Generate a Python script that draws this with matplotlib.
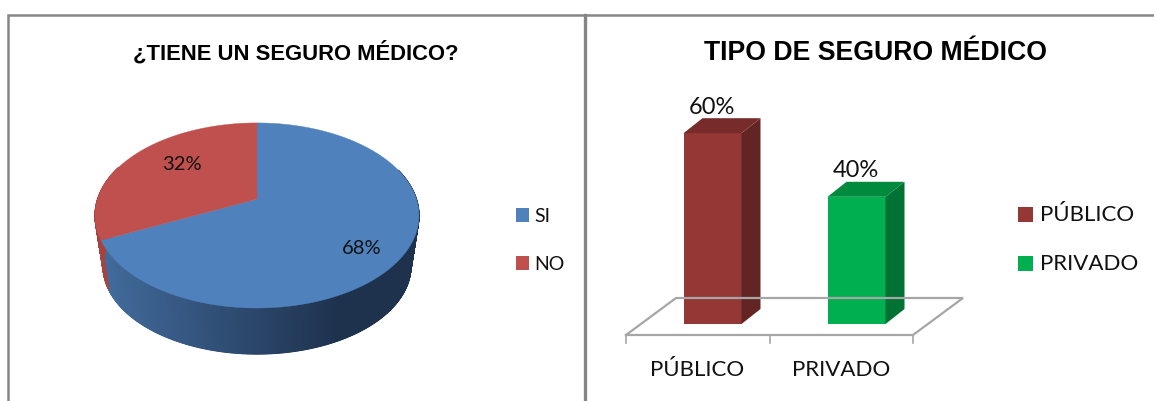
import numpy as np
import matplotlib
matplotlib.use("Agg")
import matplotlib.pyplot as plt

pie_title = "¿TIENE UN SEGURO MÉDICO?"
pie_labels = ["SI", "NO"]
pie_values = [68, 32]
pie_colors = ["#4F81BD", "#C0504D"]

bar_title = "TIPO DE SEGURO MÉDICO"
bar_labels = ["PÚBLICO", "PRIVADO"]
bar_values = [60, 40]
bar_colors = ["#953735", "#00B050"]
bar_side_colors = ["#632523", "#007233"]
bar_top_colors = ["#772C2A", "#008A3E"]

GRID = "#A6A6A6"
BORDER = "#868686"
TEXT = "#111111"
FONT = ["Lato", "DejaVu Sans"]

fig = plt.figure(figsize=(11.54, 4.01), dpi=100)
ax = fig.add_axes([0, 0, 1, 1])
ax.set_xlim(0, 1154)
ax.set_ylim(401, 0)
ax.axis("off")

# panel borders
ax.plot([7.5, 7.5, 1154], [401, 15, 15], color=BORDER, lw=1.8, solid_joinstyle="miter")
ax.plot([584.5, 584.5], [15, 401], color=BORDER, lw=2.4)


# 3D pie: circle under a perspective map, so the apex sits above the ellipse centre
APEX = (257, 199)
K, A, B = 0.178, 159.4, 89.6


def rim(theta, scale=1.0, drop=0.0):
    # theta in degrees, clockwise from 12 o'clock
    t = np.radians(theta)
    u, v = np.sin(t), np.cos(t)
    w = 1 + K * v
    return APEX[0] + scale * A * u / w, APEX[1] + drop - scale * B * v / w


def side_color(x):
    # wall gets darker towards the right of the pie
    f = np.clip((x - 100) / 240, 0, 1)
    return np.array([66, 107, 156]) * (1 - f) / 255 + np.array([30, 50, 78]) * f / 255


edges = np.cumsum([0] + pie_values) * 3.6
side_scale, side_drop = 0.95, 51.5

for i in range(len(pie_values)):
    start, stop = max(edges[i], 70), min(edges[i + 1], 292)
    steps = np.linspace(start, stop, int((stop - start) * 4) + 2)
    for t0, t1 in zip(steps[:-1], steps[1:]):
        x0, y0 = rim(t0)
        x1, y1 = rim(t1)
        x2, y2 = rim(t1, side_scale, side_drop)
        x3, y3 = rim(t0, side_scale, side_drop)
        if i == 0:
            c = side_color((x0 + x1) / 2)
        else:
            c = "#A8423F"
        ax.fill([x0, x1, x2, x3], [y0, y1, y2, y3], color=c, lw=0.8)

for i in range(len(pie_values)):
    xs, ys = rim(np.linspace(edges[i], edges[i + 1], 200))
    ax.fill(np.r_[APEX[0], xs], np.r_[APEX[1], ys], color=pie_colors[i], lw=0.3)

pie_label_pos = [(362, 248), (182, 165)]
for v, (px, py) in zip(pie_values, pie_label_pos):
    ax.text(px, py, f"{v}%", ha="center", va="center", fontsize=14.5, family=FONT, color=TEXT)

ax.text(296, 53, pie_title, ha="center", va="center", fontsize=15.8, fontweight="bold",
        family=["Liberation Sans Narrow", "Liberation Sans"], color="black")

for label, c, y in zip(pie_labels, pie_colors, [215, 263]):
    ax.fill([516, 529, 529, 516], [y - 7, y - 7, y + 7, y + 7], color=c, lw=0)
    ax.text(534, y + 1, label, ha="left", va="center", fontsize=14, family=FONT, color=TEXT)

# 3D bars on a floor
BASE = 324
PX_PER_PCT = 3.18
BAR_W = 58
DX, DY = 19, 15
bar_left = [683.5, 827.5]

floor_x = [626, 913, 963, 676, 626]
floor_y = [335, 335, 298, 298, 335]
ax.plot(floor_x, floor_y, color=GRID, lw=1.6, solid_joinstyle="miter")
for x in [626, 769.5, 913]:
    ax.plot([x, x], [335, 343], color=GRID, lw=1.2)

for left, v, c, cs, ct in zip(bar_left, bar_values, bar_colors, bar_side_colors, bar_top_colors):
    top = BASE - v * PX_PER_PCT
    right = left + BAR_W
    ax.fill([left, right, right, left], [BASE, BASE, top, top], color=c, lw=0)
    ax.fill([right, right + DX, right + DX, right],
            [BASE, BASE - DY, top - DY, top], color=cs, lw=0)
    ax.fill([left, right, right + DX, left + DX],
            [top, top, top - DY, top - DY], color=ct, lw=0)
    ax.text(left + BAR_W / 2 - 1, top - 26, f"{v}%", ha="center", va="center",
            fontsize=17, family=FONT, color=TEXT)

for label, x in zip(bar_labels, [697, 841]):
    ax.text(x, 370, label, ha="center", va="center", fontsize=16, family=FONT, color=TEXT)

ax.text(875.5, 53, bar_title, ha="center", va="center", fontsize=19.2, fontweight="bold",
        family="Liberation Sans", color="black")

for label, c, y in zip(bar_labels, bar_colors, [214, 263]):
    ax.fill([1018, 1033, 1033, 1018], [y - 7, y - 7, y + 8, y + 8], color=c, lw=0)
    ax.text(1040, y + 1, label, ha="left", va="center", fontsize=16, family=FONT, color=TEXT)

fig.savefig("out.png", dpi=100, facecolor="white")
